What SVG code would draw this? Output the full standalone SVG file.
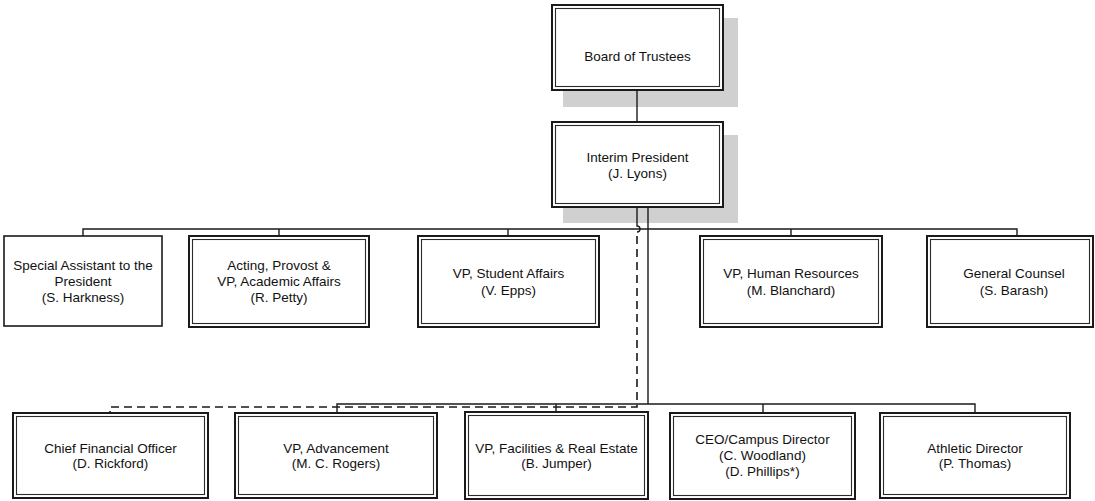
<svg xmlns="http://www.w3.org/2000/svg" width="1095" height="501" viewBox="0 0 1095 501">
<style>
.outer{fill:#fff;stroke:#1a1a1a;stroke-width:2}
.inner{fill:none;stroke:#2a2a2a;stroke-width:1.1}
.single{fill:#fff;stroke:#1a1a1a;stroke-width:1.6}
.shadow{fill:#d0d0d0}
.t{font-family:"Liberation Sans",Arial,sans-serif;font-size:13.5px;fill:#111;text-anchor:middle}
.ln{fill:none;stroke:#1a1a1a;stroke-width:1.4}
.dash{fill:none;stroke:#1a1a1a;stroke-width:1.6;stroke-dasharray:8,5}
</style>
<rect width="1095" height="501" fill="#fff"/>
<g id="shadows">
<rect class="shadow" x="563" y="18" width="175" height="89"/>
<rect class="shadow" x="563" y="135" width="175" height="88"/>
</g>
<g id="connectors">
<line class="ln" x1="637" y1="90" x2="637" y2="122"/>
<path class="ln" d="M83 236 V229 H1017 V236"/>
<line class="ln" x1="279" y1="229" x2="279" y2="236"/>
<line class="ln" x1="508" y1="229" x2="508" y2="236"/>
<line class="ln" x1="791" y1="229" x2="791" y2="236"/>
<line class="ln" x1="648" y1="207" x2="648" y2="404"/>
<path class="ln" d="M337 413 V404 H975 V413"/>
<line class="ln" x1="556" y1="404" x2="556" y2="412"/>
<line class="ln" x1="763" y1="404" x2="763" y2="413"/>
<path class="ln" d="M637 207 V226 A3 3 0 0 1 637 232"/>
<path class="dash" d="M637 236 V407 H110 V413"/>
</g>
<g id="board">
<rect class="outer" x="552" y="5" width="171" height="85"/>
<rect class="inner" x="555.5" y="8.5" width="164" height="78"/>
<text class="t" x="637.5" y="61">Board of Trustees</text>
</g>
<g id="interim">
<rect class="outer" x="552" y="122" width="171" height="85"/>
<rect class="inner" x="555.5" y="125.5" width="164" height="78"/>
<text class="t" x="637.5" y="162">Interim President</text>
<text class="t" x="637.5" y="178">(J. Lyons)</text>
</g>
<g id="special-assistant">
<rect class="single" x="4" y="236" width="158" height="90"/>
<text class="t" x="83" y="270">Special Assistant to the</text>
<text class="t" x="83" y="286">President</text>
<text class="t" x="83" y="302">(S. Harkness)</text>
</g>
<g id="provost">
<rect class="outer" x="189" y="236" width="180" height="91"/>
<rect class="inner" x="192.5" y="239.5" width="173" height="84"/>
<text class="t" x="279" y="270">Acting, Provost &amp;</text>
<text class="t" x="279" y="286">VP, Academic Affairs</text>
<text class="t" x="279" y="302">(R. Petty)</text>
</g>
<g id="student-affairs">
<rect class="outer" x="418" y="236" width="181" height="91"/>
<rect class="inner" x="421.5" y="239.5" width="174" height="84"/>
<text class="t" x="508.5" y="278">VP, Student Affairs</text>
<text class="t" x="508.5" y="295">(V. Epps)</text>
</g>
<g id="human-resources">
<rect class="outer" x="700" y="236" width="182" height="91"/>
<rect class="inner" x="703.5" y="239.5" width="175" height="84"/>
<text class="t" x="791" y="278">VP, Human Resources</text>
<text class="t" x="791" y="295">(M. Blanchard)</text>
</g>
<g id="general-counsel">
<rect class="outer" x="927" y="236" width="166" height="91"/>
<rect class="inner" x="930.5" y="239.5" width="159" height="84"/>
<text class="t" x="1014" y="278">General Counsel</text>
<text class="t" x="1014" y="295">(S. Barash)</text>
</g>
<g id="cfo">
<rect class="outer" x="13" y="413" width="195" height="85"/>
<rect class="inner" x="16.5" y="416.5" width="188" height="78"/>
<text class="t" x="110.5" y="453">Chief Financial Officer</text>
<text class="t" x="110.5" y="468">(D. Rickford)</text>
</g>
<g id="advancement">
<rect class="outer" x="235" y="413" width="202" height="85"/>
<rect class="inner" x="238.5" y="416.5" width="195" height="78"/>
<text class="t" x="336" y="453">VP, Advancement</text>
<text class="t" x="336" y="468">(M. C. Rogers)</text>
</g>
<g id="facilities">
<rect class="outer" x="465" y="412" width="183" height="87"/>
<rect class="inner" x="468.5" y="415.5" width="176" height="80"/>
<text class="t" x="556.5" y="453">VP, Facilities &amp; Real Estate</text>
<text class="t" x="556.5" y="468">(B. Jumper)</text>
</g>
<g id="ceo">
<rect class="outer" x="670" y="413" width="185" height="86"/>
<rect class="inner" x="673.5" y="416.5" width="178" height="79"/>
<text class="t" x="762.5" y="444">CEO/Campus Director</text>
<text class="t" x="762.5" y="460">(C. Woodland)</text>
<text class="t" x="762.5" y="476">(D. Phillips*)</text>
</g>
<g id="athletic">
<rect class="outer" x="880" y="413" width="190" height="85"/>
<rect class="inner" x="883.5" y="416.5" width="183" height="78"/>
<text class="t" x="975" y="453">Athletic Director</text>
<text class="t" x="975" y="468">(P. Thomas)</text>
</g>
</svg>
